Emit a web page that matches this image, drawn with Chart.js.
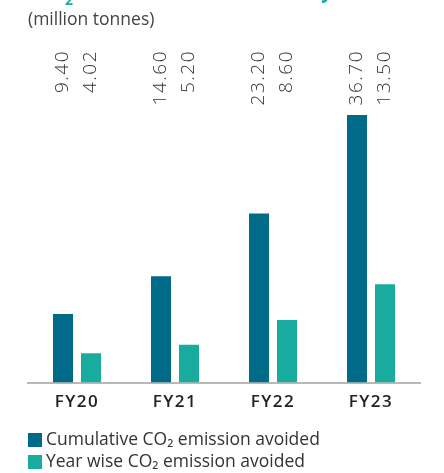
<!DOCTYPE html>
<html>
<head>
<meta charset="utf-8">
<script src="https://cdn.jsdelivr.net/npm/chart.js@4"></script>
<style>
html,body{margin:0;padding:0;background:#fff;}
#wrap{width:444px;height:473px;position:relative;}
</style>
</head>
<body>
<div id="wrap"><canvas id="c" width="444" height="473"></canvas></div>
<script>
const categories = ["FY20", "FY21", "FY22", "FY23"];
const cumulativeValues = [9.40, 14.60, 23.20, 36.70];
const yearWiseValues = [4.02, 5.20, 8.60, 13.50];
const valueLabels = [["9.40", "14.60", "23.20", "36.70"], ["4.02", "5.20", "8.60", "13.50"]];
const seriesNames = ["Cumulative CO\u2082 emission avoided", "Year wise CO\u2082 emission avoided"];
const unitText = "(million tonnes)";

const DARK = "#006a89";
const TEAL = "#18ac9f";
const FONT = "'Open Sans', 'Liberation Sans', sans-serif";

const spacing = {
  id: "spacing",
  beforeDraw(chart) {
    if ("letterSpacing" in chart.ctx) chart.ctx.letterSpacing = "1.5px";
  },
  afterDatasetsDraw(chart) {
    if ("letterSpacing" in chart.ctx) chart.ctx.letterSpacing = "0px";
  }
};

const overlay = {
  id: "overlay",
  afterDraw(chart) {
    const ctx = chart.ctx;
    ctx.save();
    if ("letterSpacing" in ctx) ctx.letterSpacing = "0px";
    // cropped title remnants
    ctx.fillStyle = TEAL;
    ctx.font = "bold 22px " + FONT;
    ctx.textBaseline = "alphabetic";
    ctx.textAlign = "left";
    ctx.fillText("CO", 30, -2);
    ctx.font = "bold 14px " + FONT;
    ctx.fillText("2", 65, 5);
    ctx.font = "bold 22px " + FONT;
    const rest = " emission avoided annually";
    const w = ctx.measureText(rest).width;
    ctx.save();
    ctx.translate(74, -2);
    ctx.scale(258 / w, 1);
    ctx.fillText(rest, 0, 0);
    ctx.restore();

    // unit
    ctx.fillStyle = "#444";
    ctx.font = "17.5px " + FONT;
    ctx.textBaseline = "middle";
    ctx.fillText(unitText, 28, 20);

    // rotated value labels
    ctx.font = "300 19px " + FONT;
    ctx.fillStyle = "#333";
    if ("letterSpacing" in ctx) ctx.letterSpacing = "1.5px";
    chart.data.datasets.forEach((ds, i) => {
      const meta = chart.getDatasetMeta(i);
      meta.data.forEach((bar, j) => {
        ctx.save();
        ctx.translate(bar.x, 50);
        ctx.rotate(-Math.PI / 2);
        ctx.textAlign = "right";
        ctx.textBaseline = "middle";
        ctx.fillText(valueLabels[i][j], 0, 0);
        ctx.restore();
      });
    });
    if ("letterSpacing" in ctx) ctx.letterSpacing = "0px";

    // legend
    ctx.font = "17.5px " + FONT;
    chart.data.datasets.forEach((ds, i) => {
      const y = 440 + i * 22;
      ctx.fillStyle = ds.backgroundColor;
      ctx.fillRect(28, y - 7, 14, 14);
      ctx.fillStyle = "#333";
      ctx.textAlign = "left";
      ctx.textBaseline = "middle";
      ctx.fillText(ds.label, 46, y);
    });
    ctx.restore();
  }
};

new Chart(document.getElementById("c"), {
  type: "bar",
  data: {
    labels: categories,
    datasets: [
      { label: seriesNames[0], data: cumulativeValues, backgroundColor: DARK, categoryPercentage: 0.5714, barPercentage: 0.714 },
      { label: seriesNames[1], data: yearWiseValues, backgroundColor: TEAL, categoryPercentage: 0.5714, barPercentage: 0.714 }
    ]
  },
  options: {
    responsive: false,
    animation: false,
    devicePixelRatio: 1,
    layout: { padding: { left: 28, right: 24, top: 91, bottom: 52 } },
    plugins: { legend: { display: false }, tooltip: { enabled: false } },
    scales: {
      x: {
        grid: { display: false, drawTicks: false },
        border: { display: true, color: "#b8b8b8", width: 2 },
        ticks: { color: "#222", font: { family: FONT, size: 17, weight: "600" }, padding: 9 }
      },
      y: {
        display: false,
        min: 0,
        max: 40
      }
    }
  },
  plugins: [spacing, overlay]
});
</script>
</body>
</html>
